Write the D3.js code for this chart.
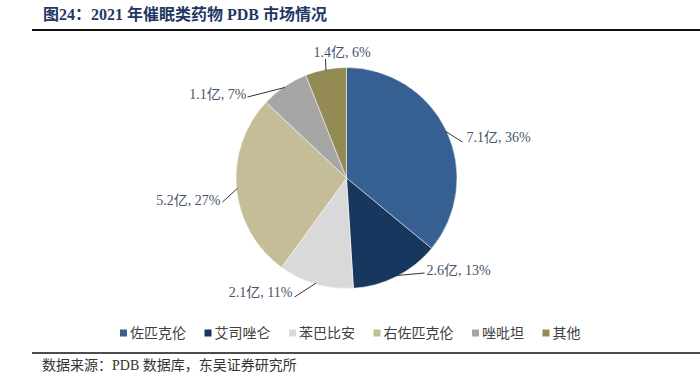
<!DOCTYPE html>
<html>
<head>
<meta charset="utf-8">
<script src="https://cdn.jsdelivr.net/npm/d3@7"></script>
<style>
  body { margin: 0; background: #fff; }
  svg { display: block; }
</style>
</head>
<body>
<div id="chart"></div>
<script>
const width = 700;
const height = 386;

const drugs = ["佐匹克伦", "艾司唑仑", "苯巴比安", "右佐匹克伦", "唑吡坦", "其他"];
const sales = ["7.1亿", "2.6亿", "2.1亿", "5.2亿", "1.1亿", "1.4亿"];
const shares = [36, 13, 11, 27, 7, 6];
const colors = ["#376092", "#17375e", "#d9d9d9", "#c4bd97", "#a6a6a6", "#948a54"];

const serif = "'Liberation Serif', 'Times New Roman', 'Noto Sans CJK SC', serif";

const cx = 346.5, cy = 178, radius = 110.5;

// label placement relative to pie centre (text anchor point, leader end)
const labelLayout = [
  { tx: 120, ty: -41, anchor: "start", lx: 116, ly: -36 },
  { tx: 80, ty: 92, anchor: "start", lx: 78, ly: 95 },
  { tx: -54, ty: 114, anchor: "end", lx: -52, ly: 119 },
  { tx: -126, ty: 22, anchor: "end", lx: -124, ly: 24 },
  { tx: -100, ty: -84, anchor: "end", lx: -99, ly: -81 },
  { tx: -33, ty: -126, anchor: "start", lx: -21, ly: -119 }
];

const data = drugs.map((name, i) => ({
  name, sales: sales[i], share: shares[i], color: colors[i], layout: labelLayout[i]
}));

const svg = d3.select("#chart").append("svg")
  .attr("width", width)
  .attr("height", height)
  .attr("viewBox", [0, 0, width, height]);

// title
svg.append("text")
  .attr("x", 43)
  .attr("y", 20)
  .attr("font-family", serif)
  .attr("font-size", 16)
  .attr("font-weight", "bold")
  .attr("fill", "#1f3864")
  .text("图24：2021 年催眠类药物 PDB 市场情况");

svg.append("line")
  .attr("x1", 32).attr("x2", width)
  .attr("y1", 30).attr("y2", 30)
  .attr("stroke", "#111")
  .attr("stroke-width", 2);

svg.append("line")
  .attr("x1", 32).attr("x2", width)
  .attr("y1", 353).attr("y2", 353)
  .attr("stroke", "#111")
  .attr("stroke-width", 1.5);

svg.append("text")
  .attr("x", 42)
  .attr("y", 370)
  .attr("font-family", serif)
  .attr("font-size", 14)
  .attr("fill", "#333")
  .text("数据来源：PDB 数据库，东吴证券研究所");

// pie
const pie = d3.pie().value(d => d.share).sort(null);
const arc = d3.arc().innerRadius(0).outerRadius(radius);
const arcs = pie(data);

const g = svg.append("g").attr("transform", `translate(${cx},${cy})`);

g.selectAll("path.slice")
  .data(arcs)
  .join("path")
  .attr("class", "slice")
  .attr("d", arc)
  .attr("fill", d => d.data.color)
  .attr("stroke", "#fff")
  .attr("stroke-width", 0.5);

// leader lines
const edgePoint = d => {
  const a = (d.startAngle + d.endAngle) / 2;
  return [Math.sin(a) * (radius - 1), -Math.cos(a) * (radius - 1)];
};

g.selectAll("polyline.leader")
  .data(arcs)
  .join("polyline")
  .attr("class", "leader")
  .attr("points", d => {
    const [ex, ey] = edgePoint(d);
    const L = d.data.layout;
    return [[ex, ey], [L.lx, L.ly]].map(p => p.join(",")).join(" ");
  })
  .attr("fill", "none")
  .attr("stroke", "#333")
  .attr("stroke-width", 1);

g.selectAll("text.label")
  .data(arcs)
  .join("text")
  .attr("class", "label")
  .attr("x", d => d.data.layout.tx)
  .attr("y", d => d.data.layout.ty)
  .attr("dy", "0.35em")
  .attr("text-anchor", d => d.data.layout.anchor)
  .attr("font-family", serif)
  .attr("font-size", 14)
  .attr("fill", "#44546a")
  .text(d => `${d.data.sales}, ${d.data.share}%`);

// legend
const legend = svg.append("g")
  .attr("transform", "translate(120,333)")
  .attr("font-family", serif)
  .attr("font-size", 14)
  .attr("fill", "#404040");

let lx = 0;
data.forEach(d => {
  const item = legend.append("g").attr("transform", `translate(${lx},0)`);
  item.append("rect")
    .attr("x", 0).attr("y", -3.5)
    .attr("width", 7).attr("height", 7)
    .attr("fill", d.color);
  const t = item.append("text")
    .attr("x", 10)
    .attr("dy", "0.35em")
    .text(d.name);
  lx += 10 + t.node().getComputedTextLength() + 18.5;
});
</script>
</body>
</html>
